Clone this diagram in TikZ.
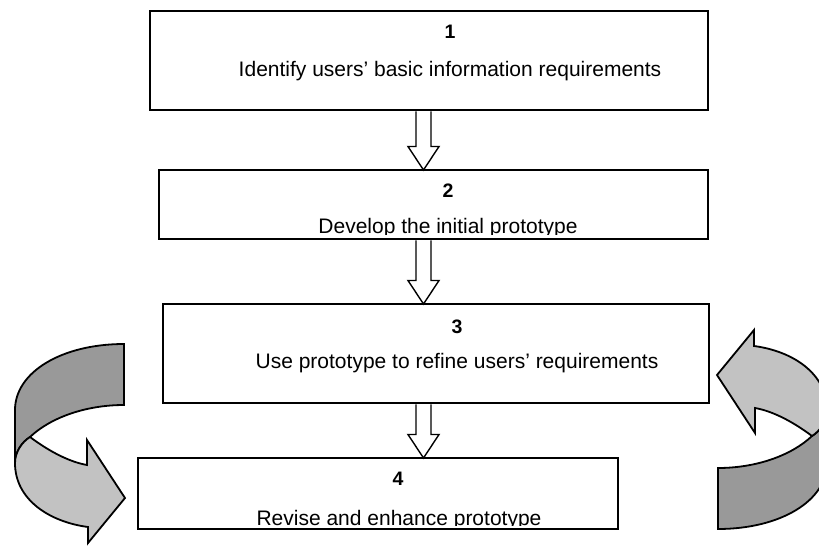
\documentclass[tikz,border=0pt]{standalone}
\usepackage{fontspec}
\setmainfont{Liberation Sans}
\usetikzlibrary{calc}

% hollow down-pointing block arrow between two anchors
\newcommand\downblock[2]{%
  \draw[blockarrow] let \p1=(#1), \p2=(#2) in
    (\x1-7.5pt,\y1-1.3pt) -- (\x1-7.5pt,\y2+23.5pt) -- (\x1-15.5pt,\y2+23.5pt)
    -- (\x2,\y2) -- (\x1+15.5pt,\y2+23.5pt) -- (\x1+7.5pt,\y2+23.5pt)
    -- (\x1+7.5pt,\y1-1.3pt);}

% two-tone U-turn arrow: dark back band, light front band with head
\newcommand\turnarrow{%
  \path[backband] (124,344) -- (124,405) .. controls (85,405) and (50,418) .. (30,437)
     .. controls (22,442) and (15,452) .. (15,463) -- (15,410)
     .. controls (15,372) and (62,344) .. (124,344) -- cycle;
  \path[frontband] (30,437) .. controls (50,452) and (70,462) .. (87,465)
     -- (87,440) -- (125,498) -- (88,543) -- (88,527)
     .. controls (50,522) and (15,500) .. (15,463)
     .. controls (15,452) and (22,442) .. (30,437) -- cycle;}

\begin{document}
\begin{tikzpicture}[x=1pt,y=-1pt,
  stepbox/.style={draw, line width=2.8pt, rectangle, inner sep=0pt, outer sep=0pt, anchor=north west},
  numtext/.style={font=\bfseries\fontsize{19.5}{23}\selectfont, anchor=base, inner sep=0pt},
  bodytext/.style={font=\fontsize{21}{25}\selectfont, anchor=base, inner sep=0pt},
  blockarrow/.style={draw, line width=1.4pt, fill=white, line join=miter},
  backband/.style={draw, line width=1.8pt, fill=black!40, line join=miter},
  frontband/.style={draw, line width=1.8pt, fill=black!24, line join=miter}]

\useasboundingbox (0,0) rectangle (819,546);
\fill[white] (0,0) rectangle (819,546);
\clip (0,0) rectangle (819,546);

% process steps
\node[stepbox, minimum width=558pt, minimum height=99pt] (b1) at (150,11) {};
\node[stepbox, minimum width=549pt, minimum height=69pt] (b2) at (159,170) {};
\node[stepbox, minimum width=546pt, minimum height=99pt] (b3) at (163,304) {};
\node[stepbox, minimum width=480pt, minimum height=71pt] (b4) at (138,458) {};

\node[numtext] (n1) at (450,38.5) {1};
\node[bodytext] (t1) at (450,76) {Identify users’ basic information requirements};

\node[numtext] (n2) at (448,197.5) {2};
\begin{scope}
  \clip (160,171) rectangle (707,234);
  \node[bodytext] (t2) at (448,233.5) {Develop the initial prototype};
\end{scope}

\node[numtext] (n3) at (457,333.5) {3};
\node[bodytext] (t3) at (457,368) {Use prototype to refine users’ requirements};

\node[numtext] (n4) at (398,485.5) {4};
\begin{scope}
  \clip (139,459) rectangle (617,525.5);
  \node[bodytext] (t4) at (399,525) {Revise and enhance prototype};
\end{scope}

% flow between steps
\coordinate (axis) at (423.5,0);
\downblock{b1.south -| axis}{b2.north -| axis}
\downblock{b2.south -| axis}{b3.north -| axis}
\downblock{b3.south -| axis}{b4.north -| axis}

% iteration loop arrows
\turnarrow
\begin{scope}[rotate around={180:(421,436.5)}]
  \turnarrow
\end{scope}
\end{tikzpicture}
\end{document}
